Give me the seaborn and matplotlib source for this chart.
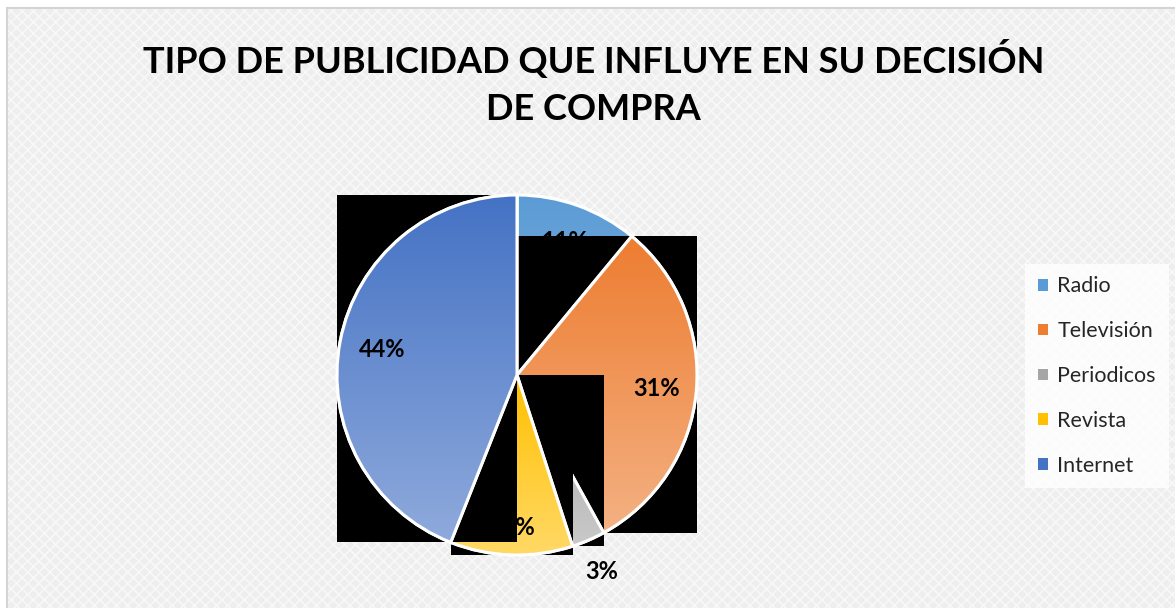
import numpy as np
import matplotlib
matplotlib.use("Agg")
import matplotlib.pyplot as plt
import seaborn as sns
from matplotlib.patches import Rectangle, Patch, Wedge
from matplotlib.colors import to_rgb

sns.set_theme(style="white")
plt.rcParams["font.family"] = ["Lato", "DejaVu Sans"]
plt.rcParams["hatch.linewidth"] = 1.2

# Data
categories = ["Radio", "Televisión", "Periodicos", "Revista", "Internet"]
values = [11, 31, 3, 11, 44]
pct_labels = ["11%", "31%", "3%", "11%", "44%"]
title = "TIPO DE PUBLICIDAD QUE INFLUYE EN SU DECISIÓN\nDE COMPRA"

# Styling
top_colors = ["#5B9BD5", "#ED7D31", "#A5A5A5", "#FFC000", "#4472C4"]
bottom_colors = ["#7FB2E0", "#F4B183", "#C9C9C9", "#FFD966", "#8FAADC"]
label_radius = [0.79, 0.78, 1.19, 0.85, 0.76]
backed = [False, True, True, True, True]          # slices drawn over a dark bounding box

fig = plt.figure(figsize=(11.75, 6.08), dpi=100)
fig.patch.set_facecolor("white")

# textured chart area
bg = Rectangle((7 / 1175, 0), 1.0, 1 - 8 / 608, transform=fig.transFigure,
               facecolor="#eeeeee", edgecolor="#f8f8f8", hatch="xxx",
               linewidth=0, zorder=-10)
fig.patches.append(bg)
frame = Rectangle((7 / 1175, -0.01), 1.0, 1 - 8 / 608 + 0.01, transform=fig.transFigure,
                  facecolor="none", edgecolor="#d4d4d4", linewidth=1.5, zorder=-9)
fig.patches.append(frame)

fig.text(0.505, 1 - 83 / 608, title, ha="center", va="center", fontsize=26,
         fontweight="bold", color="black", linespacing=1.5)

ax = fig.add_axes([(517 - 180) / 1175, (608 - 555) / 608, 360 / 1175, 360 / 608])

wedges, _ = ax.pie(values, startangle=90, counterclock=False, radius=1.0,
                   colors=top_colors,
                   wedgeprops=dict(edgecolor="white", linewidth=2.2))

for i, w in enumerate(wedges):
    z = 1 + 4 * i
    verts = w.get_patch_transform().transform(w.get_path().vertices)
    x0, y0 = verts.min(axis=0)
    x1, y1 = verts.max(axis=0)
    if backed[i]:
        ax.add_patch(Rectangle((x0, y0), x1 - x0, y1 - y0, facecolor="black",
                               edgecolor="none", zorder=z))
    w.set_zorder(z + 1)
    c_top = np.array(to_rgb(top_colors[i]))
    c_bot = np.array(to_rgb(bottom_colors[i]))
    t = np.linspace(0, 1, 256)[:, None, None]
    grad = c_top[None, None, :] * (1 - t) + c_bot[None, None, :] * t
    im = ax.imshow(grad, extent=[x0, x1, y0, y1], origin="upper", aspect="auto",
                   zorder=z + 2, interpolation="bilinear")
    im.set_clip_path(w)
    edge = Wedge(w.center, w.r, w.theta1, w.theta2, facecolor="none",
                 edgecolor="white", linewidth=2.2, zorder=z + 3)
    ax.add_patch(edge)

for i, w in enumerate(wedges):
    mid = np.deg2rad((w.theta1 + w.theta2) / 2)
    r = label_radius[i]
    ax.text(r * np.cos(mid), r * np.sin(mid), pct_labels[i], ha="center", va="center",
            fontsize=17, fontweight="bold", color="black", zorder=50, clip_on=False)

ax.set_xlim(-1, 1)
ax.set_ylim(-1, 1)
ax.set_aspect("equal")
ax.axis("off")

handles = [Patch(facecolor=top_colors[i], edgecolor="none", label=categories[i])
           for i in range(len(categories))]
leg = fig.legend(handles=handles, loc="center left",
                 bbox_to_anchor=(1025 / 1175, 1 - 376 / 608),
                 bbox_transform=fig.transFigure, fontsize=15.5, frameon=True,
                 fancybox=False, handlelength=0.45, handleheight=0.45,
                 handletextpad=0.45, labelspacing=1.15, borderpad=0.6,
                 borderaxespad=0)
leg.get_frame().set_facecolor("white")
leg.get_frame().set_edgecolor("white")
leg.get_frame().set_linewidth(0)

fig.savefig("out.png", dpi=100, facecolor=fig.get_facecolor())
